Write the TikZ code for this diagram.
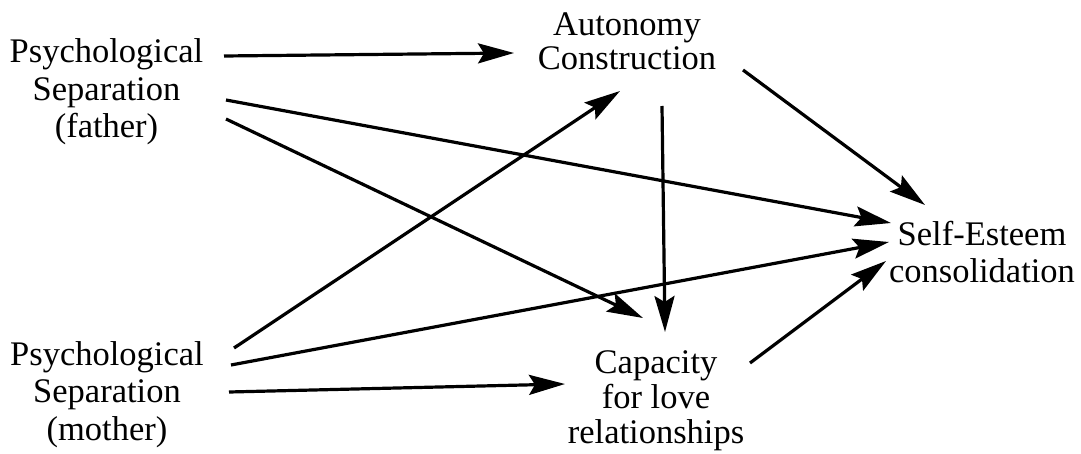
\documentclass[tikz,border=0pt]{standalone}
\usepackage{fontspec}
\setmainfont{Liberation Serif}
\usetikzlibrary{arrows.meta,calc}

\tikzset{
  label/.style={inner sep=0pt, align=center, font=\fontsize{34.5}{37.5}\selectfont},
  arr/.style={line width=3.2pt, -{Stealth[length=36pt,width=20pt,inset=6pt]}}
}

\begin{document}
\begin{tikzpicture}[x=1pt,y=-1pt]
  \useasboundingbox (0,0) rectangle (1081,454);

  % variables
  \node[label] (fa) at (106.5,92) {Psychological\\Separation\\(father)};
  \node[label] (ma) at (107,394.5) {Psychological\\Separation\\(mother)};
  \node[label, font=\fontsize{34.5}{34}\selectfont] (ac) at (627,41) {Autonomy\\Construction};
  \node[label, font=\fontsize{34.5}{37}\selectfont] (se) at (982,252) {Self-Esteem\\consolidation};
  \node[label, font=\fontsize{34.5}{35}\selectfont] (cl) at (656,401) {Capacity\\for love\\relationships};

  % paths from the father
  \draw[arr] ($(fa)+(117.5,-36)$) -- ($(ac)+(-113,12)$);
  \draw[arr] ($(fa)+(119.5,8)$) -- ($(se)+(-91,-29)$);
  \draw[arr] ($(fa)+(119.5,27)$) -- ($(cl)+(-13,-83)$);

  % paths from the mother
  \draw[arr] ($(ma)+(127,-46.5)$) -- ($(ac)+(-7,50)$);
  \draw[arr] ($(ma)+(124,-29.5)$) -- ($(se)+(-93,-10)$);
  \draw[arr] ($(ma)+(122,-2.5)$) -- ($(cl)+(-91,-17)$);

  % mediators
  \draw[arr] ($(ac)+(35,65)$) -- ($(cl)+(9,-69)$);
  \draw[arr] ($(ac)+(116,29)$) -- ($(se)+(-57,-47)$);
  \draw[arr] ($(cl)+(94,-38)$) -- ($(se)+(-96,9)$);
\end{tikzpicture}
\end{document}
